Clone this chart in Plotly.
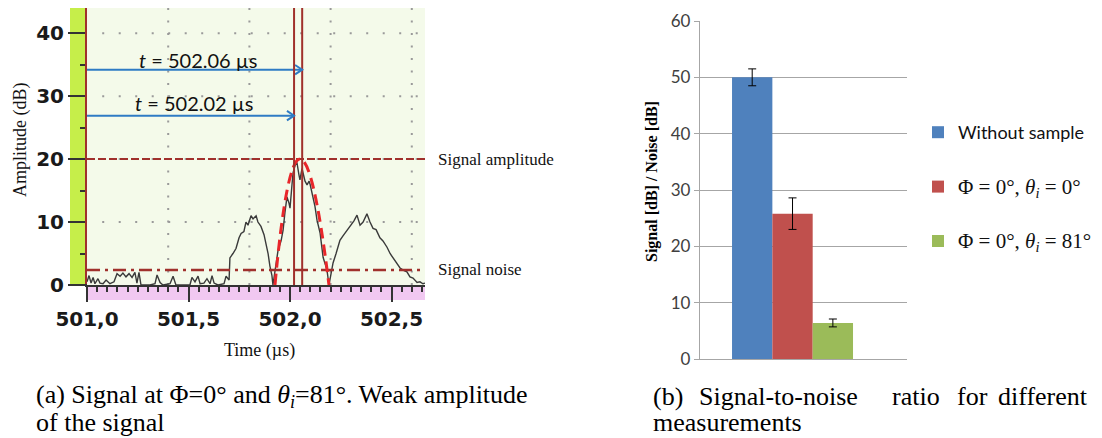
import plotly.graph_objects as go

W, H = 1102, 438

# ---------------- panel (a): oscilloscope trace ----------------
time_us = [
    501.000, 501.010, 501.020, 501.030, 501.039, 501.054, 501.064, 501.079, 501.094, 501.113,
    501.133, 501.148, 501.163, 501.177, 501.192, 501.207, 501.222, 501.236, 501.246, 501.256,
    501.266, 501.310, 501.335, 501.345, 501.360, 501.374, 501.409, 501.424, 501.438, 501.507,
    501.517, 501.532, 501.547, 501.557, 501.576, 501.591, 501.606, 501.616, 501.626, 501.645,
    501.675, 501.685, 501.700, 501.704, 501.719, 501.734, 501.749, 501.759, 501.773, 501.783,
    501.793, 501.808, 501.818, 501.833, 501.842, 501.857, 501.872, 501.882, 501.892, 501.901,
    501.911, 501.916, 501.931, 501.941, 501.956, 501.966, 501.975, 501.985, 501.995, 502.000,
    502.010, 502.015, 502.025, 502.034, 502.044, 502.049, 502.059, 502.064, 502.074, 502.084,
    502.094, 502.099, 502.113, 502.123, 502.133, 502.148, 502.163, 502.172, 502.182, 502.192,
    502.202, 502.212, 502.227, 502.246, 502.261, 502.281, 502.296, 502.315, 502.330, 502.345,
    502.360, 502.379, 502.394, 502.409, 502.424, 502.443, 502.458, 502.478, 502.493, 502.507,
    502.522, 502.542, 502.562, 502.576, 502.591, 502.606, 502.626, 502.640, 502.655, 502.665,
]
amplitude_db = [
    0.5, 1.5, 0.3, 1.2, 0.2, 1.0, 0.3, 0.2, 0.8, 0.2,
    0.5, 1.8, 1.4, 1.9, 1.3, 1.8, 1.2, 2.0, 0.3, 2.0,
    0.0, 0.0, 0.2, 1.6, 0.4, 0.0, 0.2, 1.4, 0.0, 0.0,
    1.2, 0.5, 1.4, 0.2, 0.3, 1.0, 0.2, 1.5, 0.3, 0.0,
    0.2, 1.4, 0.8, 4.3, 5.0, 5.8, 7.5, 8.2, 8.5, 10.0,
    9.5, 11.0, 10.5, 11.0, 10.0, 9.3, 8.0, 6.5, 5.0, 3.0,
    1.5, 0.0, 3.0, 5.5, 7.0, 8.7, 11.5, 14.0, 13.0, 12.2,
    16.0, 17.8, 19.0, 19.5, 17.5, 16.7, 18.5, 17.8, 16.5, 15.9,
    16.5, 16.0, 13.8, 12.5, 10.3, 8.3, 4.4, 3.5, 2.4, 0.0,
    1.5, 3.5, 5.0, 7.1, 7.8, 8.7, 9.5, 10.2, 11.1, 9.5,
    10.0, 11.3, 10.0, 9.0, 8.8, 7.5, 7.0, 6.0, 5.0, 4.3,
    3.5, 2.7, 2.3, 2.1, 1.3, 1.1, 0.4, 0.5, 0.2, 0.3,
]
arrival_times_us = [502.06, 502.02]          # upper arrow, lower arrow
arrival_labels = ["<i>t</i> = 502.06 µs", "<i>t</i> = 502.02 µs"]
arrow_levels_db = [34.2, 26.9]
signal_amplitude_db = 20.0
signal_noise_db = 2.4
envelope_start_us, envelope_peak_us, envelope_end_us = 501.926, 502.04, 502.192
x_grid_us = [501.4, 501.8, 502.2, 502.6]
y_grid_db = [10, 20, 30, 40]

# ---------------- panel (b): SNR bars ----------------
_serif_span = '<span style="font-family:Liberation Serif;font-size:21px">{}</span>'
bar_names = [
    "Without sample",
    _serif_span.format("Φ = 0°, <i>θ</i><sub><i>i</i></sub> = 0°"),
    _serif_span.format("Φ = 0°, <i>θ</i><sub><i>i</i></sub> = 81°"),
]
snr_db = [50.0, 25.8, 6.4]
snr_err_db = [1.5, 2.8, 0.7]
bar_colors = ["#4f81bd", "#c0504d", "#9bbb59"]

MAROON = "#a0302c"
SERIF = "Liberation Serif"

fig = go.Figure()

fig.add_trace(go.Scatter(
    x=time_us, y=amplitude_db, mode="lines",
    line=dict(color="#3a3a3a", width=1.4),
    xaxis="x", yaxis="y", showlegend=False, hoverinfo="skip",
))

for i, (name, v, e, c) in enumerate(zip(bar_names, snr_db, snr_err_db, bar_colors)):
    fig.add_trace(go.Bar(
        x=["SNR"], y=[v], name=name, marker=dict(color=c, line=dict(width=0)),
        error_y=dict(type="data", array=[e], color="#000000", thickness=1, width=4),
        xaxis="x2", yaxis="y2", legendgroup=f"g{i}",
    ))

def px_x(p):
    return p / W

def px_y(p):
    return 1 - p / H

shapes = []
# panel (a) background
shapes.append(dict(type="rect", xref="x domain", yref="y domain", x0=0, x1=1, y0=0, y1=1,
                   fillcolor="#f4faea", line=dict(width=0), layer="below"))
# green strip
shapes.append(dict(type="rect", xref="paper", yref="y domain", x0=px_x(70), x1=px_x(87), y0=0, y1=1,
                   fillcolor="#c6ee4a", line=dict(width=0), layer="below"))
# pink strip
shapes.append(dict(type="rect", xref="x domain", yref="paper", x0=0, x1=1, y0=px_y(300), y1=px_y(285),
                   fillcolor="#f1c8f1", line=dict(width=0), layer="below"))
# baseline continuation under green strip
shapes.append(dict(type="line", xref="paper", yref="y", x0=px_x(70), x1=px_x(87), y0=0, y1=0,
                   line=dict(color="#333333", width=2)))
# dotted grid
for gx in x_grid_us:
    shapes.append(dict(type="line", xref="x", yref="y domain", x0=gx, x1=gx, y0=0, y1=1,
                       line=dict(color="#9a9a9a", width=2, dash="2px,10.5px"), layer="below"))
for gy in y_grid_db:
    shapes.append(dict(type="line", xref="x domain", yref="y", x0=0.045, x1=1, y0=gy, y1=gy,
                       line=dict(color="#9a9a9a", width=2, dash="2px,14.5px"), layer="below"))
# signal amplitude (dashed) and noise (dash-dot)
shapes.append(dict(type="line", xref="x domain", yref="y", x0=0, x1=1,
                   y0=signal_amplitude_db, y1=signal_amplitude_db,
                   line=dict(color=MAROON, width=2, dash="8px,3px")))
shapes.append(dict(type="line", xref="x domain", yref="y", x0=0, x1=1,
                   y0=signal_noise_db, y1=signal_noise_db,
                   line=dict(color=MAROON, width=2.5, dash="13px,5px,3px,5px")))
# red envelope
ctrl_y = 2 * signal_amplitude_db
shapes.append(dict(type="path", xref="x", yref="y",
                   path=f"M {envelope_start_us},0 Q {envelope_peak_us},{ctrl_y} {envelope_end_us},0",
                   line=dict(color="#e8262a", width=3, dash="11px,6px")))
# arrival-time verticals and arrows
for t, lvl in zip(arrival_times_us, arrow_levels_db):
    shapes.append(dict(type="line", xref="x", yref="y domain", x0=t, x1=t, y0=0, y1=1,
                       line=dict(color=MAROON, width=2)))
    shapes.append(dict(type="line", xref="x", yref="y", x0=501.0, x1=t, y0=lvl, y1=lvl,
                       line=dict(color="#2e7bc4", width=2)))
    dx, dy = 0.035, 0.75
    shapes.append(dict(type="path", xref="x", yref="y",
                       path=f"M {t - dx},{lvl + dy} L {t},{lvl} L {t - dx},{lvl - dy}",
                       line=dict(color="#2e7bc4", width=2)))

annotations = []
lbl_font = dict(family="Lato", size=20, color="#111111")
annotations.append(dict(text=arrival_labels[0], x=501.547, y=35.8, xref="x", yref="y",
                        xanchor="center", yanchor="middle", showarrow=False, font=lbl_font))
annotations.append(dict(text=arrival_labels[1], x=501.527, y=28.9, xref="x", yref="y",
                        xanchor="center", yanchor="middle", showarrow=False, font=lbl_font))
side_font = dict(family=SERIF, size=17, color="#111111")
annotations.append(dict(text="Signal amplitude", x=px_x(436), y=signal_amplitude_db, xref="paper", yref="y",
                        xanchor="left", yanchor="middle", showarrow=False, font=side_font))
annotations.append(dict(text="Signal noise", x=px_x(436), y=signal_noise_db, xref="paper", yref="y",
                        xanchor="left", yanchor="middle", showarrow=False, font=side_font))
annotations.append(dict(text="Time (µs)", x=px_x(259), y=px_y(350), xref="paper", yref="paper",
                        xanchor="center", yanchor="middle",
                        showarrow=False, font=dict(family=SERIF, size=18, color="#111111")))
annotations.append(dict(text="Amplitude (dB)", x=px_x(20), y=px_y(140), xref="paper", yref="paper",
                        xanchor="center", yanchor="middle",
                        textangle=-90, showarrow=False, font=dict(family=SERIF, size=18, color="#111111")))
annotations.append(dict(text="<b>Signal [dB] / Noise [dB]</b>", x=px_x(652), y=px_y(182),
                        xref="paper", yref="paper", xanchor="center", yanchor="middle",
                        textangle=-90, showarrow=False,
                        font=dict(family=SERIF, size=16, color="#000000")))
# captions
cap_font = dict(family=SERIF, size=26, color="#000000")
annotations.append(dict(text="(a) Signal at Φ=0° and <i>θ<sub>i</sub></i>=81°. Weak amplitude",
                        x=px_x(34), y=px_y(396), xref="paper", yref="paper",
                        xanchor="left", yanchor="middle", showarrow=False, font=cap_font))
annotations.append(dict(text="of the signal", x=px_x(34), y=px_y(422), xref="paper", yref="paper",
                        xanchor="left", yanchor="middle", showarrow=False, font=cap_font))
for word, wx, anchor in [("(b)", 651, "left"), ("Signal-to-noise", 697, "left"),
                         ("ratio", 890, "left"), ("for", 955, "left"), ("different", 1090, "right")]:
    annotations.append(dict(text=word, x=px_x(wx), y=px_y(396), xref="paper", yref="paper",
                            xanchor=anchor, yanchor="middle", showarrow=False, font=cap_font))
annotations.append(dict(text="measurements", x=px_x(651), y=px_y(422), xref="paper", yref="paper",
                        xanchor="left", yanchor="middle", showarrow=False, font=cap_font))

osc_tick_font = dict(family="DejaVu Sans", size=20, color="#1a1a1a", weight="bold")

fig.update_layout(
    width=W, height=H, autosize=False,
    margin=dict(l=0, r=0, t=0, b=0, autoexpand=False),
    paper_bgcolor="white", plot_bgcolor="white",
    separators=",.",
    showlegend=True,
    barmode="group", bargap=0.4155, bargroupgap=0,
    xaxis=dict(
        domain=[px_x(87), px_x(425)], range=[501.0, 502.665], anchor="y", automargin=False,
        showgrid=False, zeroline=False, showline=True, linecolor="#333333", linewidth=2,
        ticks="outside", ticklen=15, tickwidth=2, tickcolor="#333333",
        tick0=501.0, dtick=0.5, tickformat=".1f", tickfont=osc_tick_font,
        minor=dict(ticks="outside", ticklen=5, tickwidth=1.5, tickcolor="#333333",
                   tick0=501.0, dtick=0.05, showgrid=False),
    ),
    yaxis=dict(
        domain=[px_y(285), px_y(8)], range=[0, 44], anchor="x", automargin=False,
        showgrid=False, zeroline=False, showline=True, linecolor=MAROON, linewidth=2,
        ticks="outside", ticklen=17, tickwidth=2, tickcolor="#333333",
        tick0=0, dtick=10, tickfont=osc_tick_font,
        minor=dict(ticks="outside", ticklen=5, tickwidth=1.5, tickcolor="#333333",
                   tick0=0, dtick=5, showgrid=False),
    ),
    xaxis2=dict(
        domain=[px_x(700), px_x(907)], range=[-0.447, 0.553], anchor="y2", type="category",
        automargin=False, showticklabels=False, showgrid=False, zeroline=False,
        showline=True, linecolor="#a6a6a6", linewidth=1.3, ticks="",
    ),
    yaxis2=dict(
        domain=[px_y(359), px_y(21)], range=[0, 60], anchor="x2", automargin=False,
        dtick=10, showgrid=True, gridcolor="#a6a6a6", gridwidth=1.3, zeroline=False,
        showline=True, linecolor="#a6a6a6", linewidth=1.3,
        ticks="outside", ticklen=5, tickcolor="#a6a6a6",
        tickfont=dict(family="Lato", size=17, color="#404040"),
    ),
    legend=dict(
        x=px_x(918), y=px_y(114), xanchor="left", yanchor="top",
        bgcolor="rgba(0,0,0,0)", font=dict(family="Lato", size=18, color="#111111"),
        traceorder="grouped", tracegroupgap=28,
    ),
    shapes=shapes, annotations=annotations,
)

fig.write_html("out.html")
